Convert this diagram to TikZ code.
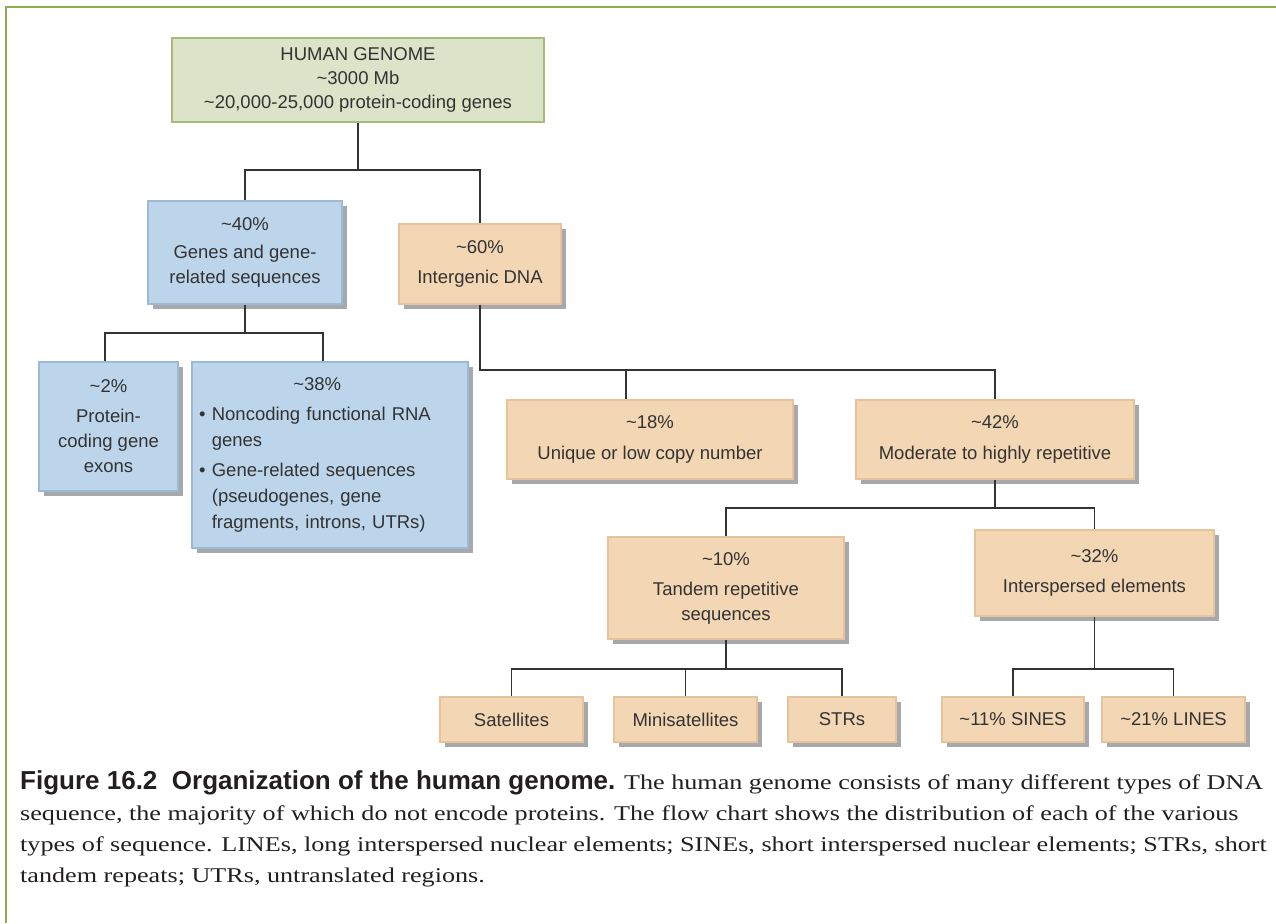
\documentclass[tikz,border=0pt]{standalone}
\usepackage{fontspec}
\usetikzlibrary{shadows}
\newfontfamily\boxfont{Liberation Sans}
\newfontfamily\capserif[FakeStretch=1.245]{Liberation Serif}
\newfontfamily\capbold{Liberation Sans Bold}
\newcommand\tld{\textasciitilde}
\definecolor{framegreen}{HTML}{8FAD50}
\definecolor{gfill}{HTML}{DBE4C8}
\definecolor{gdraw}{HTML}{A4BB7A}
\definecolor{bfill}{HTML}{BDD5EB}
\definecolor{bdraw}{HTML}{9BBAD8}
\definecolor{ofill}{HTML}{F3D6B3}
\definecolor{odraw}{HTML}{E6C39A}
\definecolor{shad}{HTML}{A6A8AB}
\definecolor{linec}{HTML}{333333}
\definecolor{txt}{HTML}{333333}
\definecolor{captxt}{HTML}{231F20}
\tikzset{
  box/.style={draw, line width=1.2pt, inner sep=0pt, align=center, text=txt,
    font=\boxfont\fontsize{18.5}{25}\selectfont},
  shadowed/.style={drop shadow={shadow xshift=5pt, shadow yshift=-5pt, fill=shad, opacity=1}},
  greenbox/.style={box, fill=gfill, draw=gdraw},
  bluebox/.style={box, shadowed, fill=bfill, draw=bdraw},
  orangebox/.style={box, shadowed, fill=ofill, draw=odraw},
  conn/.style={draw=linec, line width=1.3pt},
  frameline/.style={draw=framegreen, line width=2pt},
  capline/.style={anchor=base west, inner sep=0pt, text=captxt, font=\capserif\fontsize{21}{31}\selectfont}
}
\begin{document}
\begin{tikzpicture}[x=1pt,y=-1pt]
\useasboundingbox (0,0) rectangle (1276,923);
\draw[frameline] (6,923) -- (6,7) -- (1276,7);

% boxes
\node[greenbox, minimum width=372, minimum height=84] (top) at (358,80)
  {HUMAN GENOME\\[-1pt] \tld3000 Mb\\[-1pt] \tld20,000-25,000 protein-coding genes};
\node[bluebox, minimum width=194, minimum height=103] (b40) at (245,252.5)
  {\tld40\%\\[3pt] Genes and gene-\\ related sequences};
\node[orangebox, minimum width=162, minimum height=80] (o60) at (480,264)
  {\tld60\%\\[5pt] Intergenic DNA};
\node[bluebox, minimum width=139, minimum height=129] (b2) at (108.5,426.5)
  {\tld2\%\\[5pt] Protein-\\ coding gene\\ exons};
\node[bluebox, minimum width=276, minimum height=186] (b38) at (330,455) {};
\node[anchor=west, inner sep=0pt, text width=236, align=left, text=txt,
      font=\boxfont\fontsize{18.5}{26}\selectfont] (t38) at (199,455)
  {\makebox[\linewidth][c]{\tld38\%}\\[4pt]
   \textbullet\ Noncoding functional RNA\\
   \hphantom{\textbullet\ }genes\\[4pt]
   \textbullet\ Gene-related sequences\\
   \hphantom{\textbullet\ }(pseudogenes, gene\\
   \hphantom{\textbullet\ }fragments, introns, UTRs)};
\node[orangebox, minimum width=286, minimum height=79] (o18) at (650,439.5)
  {\tld18\%\\[6pt] Unique or low copy number};
\node[orangebox, minimum width=278, minimum height=79] (o42) at (995,439.5)
  {\tld42\%\\[6pt] Moderate to highly repetitive};
\node[orangebox, minimum width=236, minimum height=102] (o10) at (726,588)
  {\tld10\%\\[5pt] Tandem repetitive\\ sequences};
\node[orangebox, minimum width=239, minimum height=86] (o32) at (1094.5,573)
  {\tld32\%\\[5pt] Interspersed elements};
\node[orangebox, minimum width=143, minimum height=45] (sat) at (511.5,719.5) {Satellites};
\node[orangebox, minimum width=143, minimum height=45] (mini) at (685.5,719.5) {Minisatellites};
\node[orangebox, minimum width=108, minimum height=45] (strs) at (842,719.5) {STRs};
\node[orangebox, minimum width=142, minimum height=45] (sines) at (1013,719.5) {\tld11\% SINES};
\node[orangebox, minimum width=143, minimum height=45] (lines) at (1173.5,719.5) {\tld21\% LINES};

% junctions
\coordinate (j0) at (358,170);
\coordinate (j1) at (245,333);
\coordinate (j2) at (480,370);
\coordinate (j3) at (995,508);
\coordinate (j4) at (726,669);
\coordinate (j5) at (1094.5,669);

% connectors
\draw[conn] (top.south) -- (j0);
\draw[conn] (b40.north) |- (j0) -| (o60.north);
\draw[conn] (b40.south) -- (j1);
\draw[conn] ([xshift=-3.5pt]b2.north) |- (j1) -| ([xshift=-7pt]b38.north);
\draw[conn] (o60.south) -- (j2) -| (o42.north);
\draw[conn] (j2) -| ([xshift=-24pt]o18.north);
\draw[conn] (o42.south) -- (j3);
\draw[conn] (o10.north) |- (j3) -| (o32.north);
\draw[conn] (o10.south) -- (j4);
\draw[conn] (sat.north) |- (j4) -| (strs.north);
\draw[conn] (mini.north) -- (mini.north |- j4);
\draw[conn] (o32.south) -- (j5);
\draw[conn] (sines.north) |- (j5) -| (lines.north);

% caption
\node[capline] (cap1) at (20,789)
  {{\capbold\fontsize{26}{31}\selectfont Figure 16.2\ \ Organization of the human genome.} The human genome consists of many different types of DNA};
\node[capline] (cap2) at (20,820)
  {sequence, the majority of which do not encode proteins. The flow chart shows the distribution of each of the various};
\node[capline] (cap3) at (20,851)
  {types of sequence. LINEs, long interspersed nuclear elements; SINEs, short interspersed nuclear elements; STRs, short};
\node[capline] (cap4) at (20,882)
  {tandem repeats; UTRs, untranslated regions.};
\end{tikzpicture}
\end{document}
